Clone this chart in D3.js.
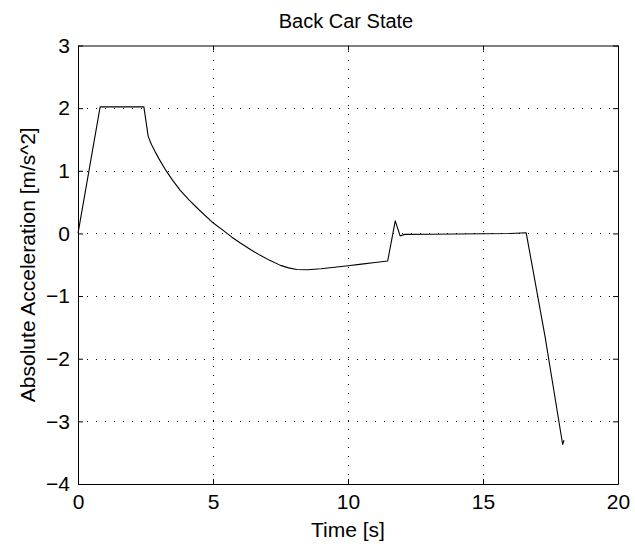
<!DOCTYPE html>
<html>
<head>
<meta charset="utf-8">
<script src="https://cdn.jsdelivr.net/npm/d3@7"></script>
<style>
  html, body { margin: 0; padding: 0; background: #fff; }
  svg { display: block; font-family: "Liberation Sans", Arial, Helvetica, sans-serif; }
</style>
</head>
<body>
<svg id="chart" width="635" height="554"></svg>
<script>
const title = "Back Car State";
const xLabel = "Time [s]";
const yLabel = "Absolute Acceleration [m/s^2]";
const xTicks = [0, 5, 10, 15, 20];
const yTicks = [-4, -3, -2, -1, 0, 1, 2, 3];
const xDomain = [0, 20];
const yDomain = [-4, 3];

// Time [s]
const time = [0, 0.82, 1.5, 2.0, 2.44, 2.6, 2.72, 2.85, 3.0, 3.25, 3.5, 3.78, 4.1, 4.5, 5.0, 5.4, 5.7, 6.0, 6.4, 6.75, 7.1, 7.5, 7.8, 8.1, 8.5, 9.0, 9.5, 10.0, 10.5, 11.0, 11.47, 11.75, 11.93, 12.1, 13, 14, 15, 16, 16.6, 17.3, 17.95, 18.0];
// Acceleration [m/s^2]
const accel = [0, 2.02, 2.02, 2.02, 2.02, 1.55, 1.42, 1.31, 1.19, 1.01, 0.85, 0.69, 0.54, 0.37, 0.17, 0.04, -0.06, -0.15, -0.26, -0.35, -0.43, -0.51, -0.55, -0.575, -0.58, -0.565, -0.54, -0.515, -0.49, -0.465, -0.44, 0.2, -0.04, -0.015, -0.012, -0.01, -0.005, 0.0, 0.01, -1.65, -3.37, -3.3];

const svg = d3.select("#chart");
const m = { left: 78, right: 17, top: 45.5, bottom: 70 };
const W = 635, H = 554;
const x = d3.scaleLinear().domain(xDomain).range([m.left, W - m.right]);
const y = d3.scaleLinear().domain(yDomain).range([H - m.bottom, m.top]);
const x0 = m.left, x1 = W - m.right, y0 = H - m.bottom, y1 = m.top;

// grid
const grid = svg.append("g").attr("stroke", "#000").attr("stroke-width", 1)
  .attr("stroke-dasharray", "1,8").attr("shape-rendering", "crispEdges");
grid.selectAll("line.gx").data(xTicks.slice(1, -1)).join("line")
  .attr("x1", d => Math.round(x(d)) + 0.5).attr("x2", d => Math.round(x(d)) + 0.5)
  .attr("y1", y0).attr("y2", y1);
grid.selectAll("line.gy").data(yTicks.slice(1, -1)).join("line")
  .attr("y1", d => Math.round(y(d)) + 0.5).attr("y2", d => Math.round(y(d)) + 0.5)
  .attr("x1", x0).attr("x2", x1);

// axes with inward ticks on all sides
const tl = 5;
const fs = 21;
const bottomAxis = d3.axisBottom(x).tickValues(xTicks).tickSizeInner(-tl).tickSizeOuter(0).tickPadding(10);
const gB = svg.append("g").attr("transform", `translate(0,${y0})`).call(bottomAxis);
const topAxis = d3.axisTop(x).tickValues(xTicks).tickSizeInner(-tl).tickSizeOuter(0).tickFormat("");
const gT = svg.append("g").attr("transform", `translate(0,${y1})`).call(topAxis);
const leftAxis = d3.axisLeft(y).tickValues(yTicks).tickSizeInner(-tl).tickSizeOuter(0).tickPadding(8)
  .tickFormat(d => d < 0 ? "\u2212" + Math.abs(d) : d);
const gL = svg.append("g").attr("transform", `translate(${x0},0)`).call(leftAxis);
const rightAxis = d3.axisRight(y).tickValues(yTicks).tickSizeInner(-tl).tickSizeOuter(0).tickFormat("");
const gR = svg.append("g").attr("transform", `translate(${x1},0)`).call(rightAxis);
[gB, gT, gL, gR].forEach(g => {
  g.select(".domain").attr("stroke", "#000").attr("stroke-width", 1);
  g.selectAll(".tick line").attr("stroke", "#000");
  g.selectAll("text").attr("font-size", fs).attr("fill", "#000")
    .attr("font-family", "Liberation Sans, Arial, sans-serif");
});

// line
const line = d3.line().x((d, i) => x(time[i])).y(d => y(d));
svg.append("path").datum(accel).attr("d", line)
  .attr("fill", "none").attr("stroke", "#000").attr("stroke-width", 1.1)
  .attr("stroke-linejoin", "round");

// labels
svg.append("text").attr("x", (x0 + x1) / 2 - 2).attr("y", 28).attr("text-anchor", "middle")
  .attr("font-size", 20).text(title);
svg.append("text").attr("x", (x0 + x1) / 2).attr("y", 537).attr("text-anchor", "middle")
  .attr("font-size", fs).text(xLabel);
svg.append("text").attr("transform", `translate(35,${(y0 + y1) / 2}) rotate(-90)`)
  .attr("text-anchor", "middle").attr("font-size", fs).text(yLabel);
</script>
</body>
</html>
